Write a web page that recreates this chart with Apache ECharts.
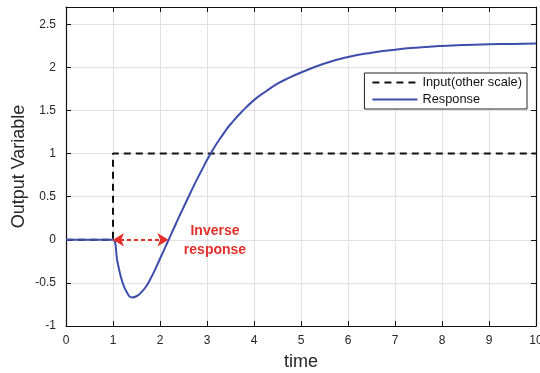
<!DOCTYPE html>
<html>
<head>
<meta charset="utf-8">
<script src="https://cdn.jsdelivr.net/npm/echarts@6/dist/echarts.min.js"></script>
<style>
  html, body { margin: 0; padding: 0; background: #fff; }
  #chart { width: 540px; height: 373px; }
</style>
</head>
<body>
<div id="chart"></div>
<script>
// Step input (plotted on its own scale) and the inverse-response output
const inputTime  = [0, 1, 1, 10];
const inputValue = [0, 0, 1, 1];

const responseTime = [0, 0.5, 0.9, 1.0, 1.1, 1.2, 1.3, 1.4, 1.5, 1.6, 1.7, 1.8, 1.9, 2.0,
  2.1, 2.2, 2.3, 2.4, 2.5, 2.6, 2.7, 2.8, 2.9, 3.0, 3.1, 3.2, 3.3, 3.4, 3.5,
  3.75, 4.0, 4.25, 4.5, 4.75, 5.0, 5.5, 6.0, 6.5, 7.0, 7.5, 8.0, 8.5, 9.0, 9.5, 10];
const responseValue = [0, 0, 0, 0, -0.27, -0.49, -0.615, -0.668, -0.655, -0.61, -0.545, -0.45, -0.34, -0.22,
  -0.10, 0.02, 0.14, 0.26, 0.375, 0.49, 0.605, 0.715, 0.82, 0.925, 1.02, 1.11, 1.19, 1.27, 1.34,
  1.49, 1.62, 1.72, 1.81, 1.88, 1.94, 2.045, 2.12, 2.17, 2.205, 2.23, 2.248, 2.26, 2.267, 2.272, 2.277];

// Span of the inverse response (arrow) and where its caption sits
const inverseSpan = [1, 2.18];
const captionAt = [3.17, -0.01];

const xTicks = { min: 0, max: 10, step: 1 };
const yTicks = { min: -1, max: 2.7, step: 0.5 };

const pairs = (xs, ys) => xs.map((x, i) => [x, ys[i]]);

const FONT = '"Liberation Sans", Arial, sans-serif';
const TXT = '#262626';

const chart = echarts.init(document.getElementById('chart'), null, { renderer: 'canvas' });

const baseX = {
  type: 'value', min: xTicks.min, max: xTicks.max, interval: xTicks.step,
  axisLine: { show: true, onZero: false, lineStyle: { color: '#111', width: 1.2 } },
  axisTick: { show: true, inside: true, length: 5, lineStyle: { color: '#111' } },
  splitLine: { show: false }
};
const baseY = {
  type: 'value', min: yTicks.min, max: yTicks.max, interval: yTicks.step,
  axisLine: { show: true, onZero: false, lineStyle: { color: '#111', width: 1.2 } },
  axisTick: { show: true, inside: true, length: 5, lineStyle: { color: '#111' } },
  splitLine: { show: false }
};

chart.setOption({
  animation: false,
  grid: { left: 66, right: 4, top: 7, bottom: 47, containLabel: false, outerBoundsMode: 'none' },
  xAxis: [
    Object.assign({}, baseX, {
      position: 'bottom',
      name: 'time', nameLocation: 'middle', nameGap: 27, nameMoveOverlap: false,
      nameTextStyle: { fontFamily: FONT, fontSize: 18, color: TXT },
      axisLabel: { fontFamily: FONT, fontSize: 12, color: TXT, margin: 9 },
      splitLine: { show: true, lineStyle: { color: '#e2e2e2', width: 1 } }
    }),
    Object.assign({}, baseX, { position: 'top', axisLabel: { show: false } })
  ],
  yAxis: [
    Object.assign({}, baseY, {
      position: 'left',
      name: 'Output Variable', nameLocation: 'middle', nameGap: 38, nameRotate: 90, nameMoveOverlap: false,
      nameTextStyle: { fontFamily: FONT, fontSize: 18, color: TXT },
      axisLabel: { fontFamily: FONT, fontSize: 12, color: TXT, margin: 10, showMaxLabel: false },
      splitLine: { show: true, lineStyle: { color: '#e2e2e2', width: 1 } }
    }),
    Object.assign({}, baseY, { position: 'right', axisLabel: { show: false } })
  ],
  legend: {
    orient: 'vertical',
    right: 13, top: 73,
    backgroundColor: '#fff',
    borderColor: '#222', borderWidth: 1, borderRadius: 0,
    padding: [3, 5, 3, 7],
    itemWidth: 45, itemHeight: 12, itemGap: 4,
    itemStyle: { opacity: 0, borderWidth: 0 },
    textStyle: { fontFamily: FONT, fontSize: 12.8, color: '#111' },
    data: ['Input(other scale)', 'Response']
  },
  series: [
    {
      name: 'Input(other scale)',
      type: 'line',
      data: pairs(inputTime, inputValue),
      showSymbol: false, symbol: 'none',
      lineStyle: { color: '#111', width: 2, type: [7, 5] },
      itemStyle: { color: '#111' },
      z: 3
    },
    {
      name: 'Response',
      type: 'line',
      data: pairs(responseTime, responseValue),
      smooth: 0.5,
      showSymbol: false, symbol: 'none',
      lineStyle: { color: '#3d4ead', width: 2 },
      itemStyle: { color: '#3d4ead' },
      z: 4,
      markLine: {
        silent: true,
        symbol: ['arrow', 'arrow'],
        symbolSize: [10, 11],
        label: { show: false },
        lineStyle: { color: '#e3302a', width: 2, type: [4, 3] },
        data: [[{ coord: [inverseSpan[0], 0] }, { coord: [inverseSpan[1], 0] }]]
      },
      markPoint: {
        silent: true,
        symbol: 'circle', symbolSize: 0,
        data: [{ coord: captionAt }],
        label: {
          show: true, position: 'inside',
          formatter: 'Inverse\nresponse',
          fontFamily: FONT, fontSize: 14, fontWeight: 'bold',
          color: '#e3302a', lineHeight: 19, align: 'center'
        }
      }
    }
  ]
});
</script>
</body>
</html>
